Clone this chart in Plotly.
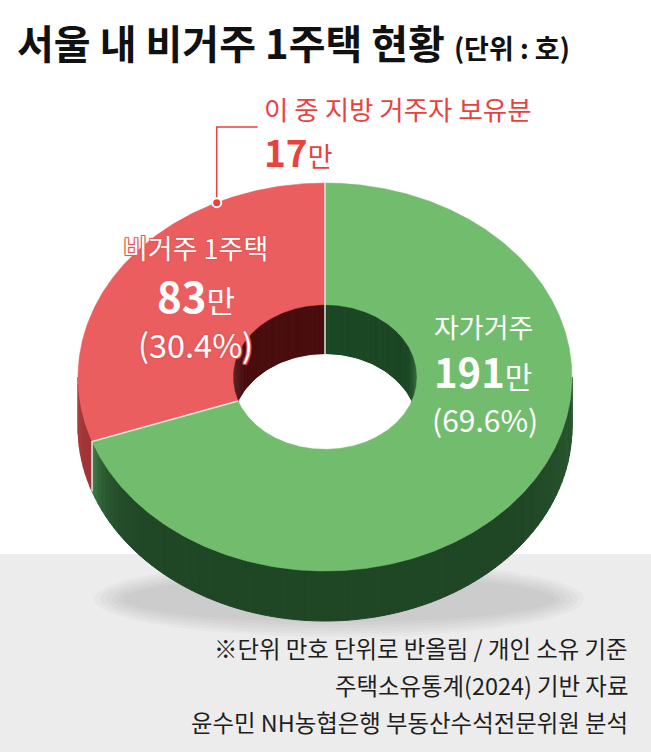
import numpy as np
import plotly.graph_objects as go

# data (단위: 만 호)
categories = ["자가거주", "비거주 1주택"]
values = [191, 83]
shares = [69.6, 30.4]
sub_label = "이 중 지방 거주자 보유분"
sub_value = 17
notes = [
    "※단위 만호 단위로 반올림 / 개인 소유 기준",
    "주택소유통계(2024) 기반 자료",
    "윤수민 NH농협은행 부동산수석전문위원 분석",
]

# donut geometry in pixel space
CX, CY = 325, 377
RX, RY = 247, 194
HOLE = 0.373
DEPTH = 50
RXI, RYI = RX * HOLE, RY * HOLE

RED = "#EB5E5F"
GREEN = "#72BD6D"
RED_TXT = "#E8423F"
KR = "Noto Sans CJK KR"


def ell(theta, rx, ry, dy=0.0):
    t = np.radians(theta)
    return CX + rx * np.cos(t), CY - ry * np.sin(t) + dy


def mix(c1, c2, w):
    w = min(max(w, 0.0), 1.0)
    a = [int(c1[i:i + 2], 16) for i in (1, 3, 5)]
    b = [int(c2[i:i + 2], 16) for i in (1, 3, 5)]
    return "#" + "".join(f"{round(x + (y - x) * w):02x}" for x, y in zip(a, b))


def overlap(a0, a1, lo, hi):
    out = []
    for s in (-360, 0, 360):
        x0, x1 = max(a0 + s, lo), min(a1 + s, hi)
        if x1 > x0:
            out.append((x0, x1))
    return out


fig = go.Figure()


def poly(xs, ys, color, width=1):
    fig.add_trace(go.Scatter(
        x=list(xs) + [xs[0]], y=list(ys) + [ys[0]],
        mode="lines", fill="toself", fillcolor=color,
        line=dict(color=color, width=width),
        hoverinfo="skip", showlegend=False,
    ))


# slice angles from the shares, red slice starts at 12 o'clock going counter-clockwise
start = 90.0
red_span = shares[1] * 3.6
slices = [
    # (a0, a1, top, side, side_light, inner, inner_light)
    (start, start + red_span, RED, "#9C3335", "#C24B4D", "#4A0D0E", "#6E3A3A"),
    (start + red_span, start + 360, GREEN, "#1F4625", "#4A8F50", "#1C4724", "#4E8C54"),
]

# soft shadow on the floor
ring = np.linspace(0, 360, 121)
for i in range(6):
    sx, sy = ell(ring, 245 - i * 6, 38 - i * 3)
    fig.add_trace(go.Scatter(
        x=sx + 14, y=sy + RY + DEPTH - 22,
        mode="lines", fill="toself", fillcolor="rgba(70,70,70,0.032)",
        line=dict(width=0), hoverinfo="skip", showlegend=False,
    ))

# outer side wall (front half)
step = 2.0
for a0, a1, top, side, side_l, inner, inner_l in slices:
    for lo, hi in overlap(a0, a1, 180, 360):
        for t in np.arange(lo, hi, step):
            t2 = min(t + step, hi)
            w = 0.75 * np.exp(-(t - lo) / 7.0) + 0.25 * max(0.0, (t - 320) / 40)
            c = mix(side, side_l, w)
            x1, y1 = ell(np.array([t, t2]), RX, RY)
            x2, y2 = ell(np.array([t2, t]), RX, RY, DEPTH)
            poly(np.r_[x1, x2], np.r_[y1, y2], c)

# inner wall (back half of the hole)
for a0, a1, top, side, side_l, inner, inner_l in slices:
    for lo, hi in overlap(a0, a1, 0, 180):
        for t in np.arange(lo, hi, step):
            t2 = min(t + step, hi)
            w = 0.8 * max(0.0, (t - 150) / 30) + 0.9 * max(0.0, (25 - t) / 25)
            c = mix(inner, inner_l, w)
            x1, y1 = ell(np.array([t, t2]), RXI, RYI)
            x2, y2 = ell(np.array([t2, t]), RXI, RYI, DEPTH)
            poly(np.r_[x1, x2], np.r_[y1, y2], c)

# see-through part of the hole
hx, hy = ell(np.linspace(0, 360, 181), RXI, RYI, DEPTH)
poly(hx, hy, "#FFFFFF")

# top face
for a0, a1, top, *_ in slices:
    th = np.linspace(a0, a1, int((a1 - a0) * 2) + 2)
    ox, oy = ell(th, RX, RY)
    ix, iy = ell(th[::-1], RXI, RYI)
    poly(np.r_[ox, ix], np.r_[oy, iy], top, width=0.5)

# slice borders
for a in (start, start + red_span):
    bx, by = ell(np.array([a, a]), np.array([RX, RXI]), np.array([RY, RYI]))
    if a == start:
        bx = np.r_[bx, bx[-1]]
        by = np.r_[by, by[-1] + DEPTH]
    else:
        ex, ey = ell(a, RX, RY)
        bx = np.r_[bx[::-1], ex]
        by = np.r_[by[::-1], ey + DEPTH]
    fig.add_trace(go.Scatter(x=bx, y=by, mode="lines",
                             line=dict(color="#E4E4E4", width=1.5),
                             hoverinfo="skip", showlegend=False))

# leader for the sub-share
dx, dy = ell(116.0, RX, RY)
fig.add_trace(go.Scatter(x=[dx, dx, dx + 41], y=[dy, 127, 127], mode="lines",
                         line=dict(color=RED_TXT, width=1.5),
                         hoverinfo="skip", showlegend=False))
fig.add_trace(go.Scatter(x=[dx], y=[dy], mode="markers",
                         marker=dict(size=9, color=RED_TXT, line=dict(color="white", width=2)),
                         hoverinfo="skip", showlegend=False))


def note(x, y, text, size, color, xanchor="left", weight=400, shadow="none"):
    fig.add_annotation(x=x, y=y, xref="x", yref="y", text=text, showarrow=False,
                       xanchor=xanchor, yanchor="middle",
                       font=dict(family=KR, size=size, color=color, weight=weight, shadow=shadow))


glow = ("1px 1px 0 #E45858, -1px -1px 0 #E45858, 1px -1px 0 #E45858, -1px 1px 0 #E45858, "
        "0 0 3px #E45858")

note(15, 42, "<b>서울 내 비거주 1주택 현황</b> <span style='font-size:27px'><b>(단위 : 호)</b></span>",
     40, "#111111")
note(262, 108, sub_label, 26.5, RED_TXT)
note(262, 151, f"<b>{sub_value}</b><span style='font-size:27px'>만</span>", 37, RED_TXT)

note(195, 247, categories[1], 27, "white", "center", shadow=glow)
note(196, 294, f"<b>{values[1]}</b><span style='font-size:31px'>만</span>", 42, "white", "center")
note(195, 343, f"({shares[1]}%)", 32.5, "white", "center", shadow=glow)

note(483, 326, categories[0], 27, "white", "center")
note(483, 371, f"<b>{values[0]}</b><span style='font-size:30px'>만</span>", 40, "white", "center")
note(485, 419, f"({shares[0]}%)", 30, "white", "center")

for i, t in enumerate(notes):
    note(630, 648 + i * 37, t, 23.4, "#1E1E1E", "right")

fig.update_layout(
    width=651, height=752,
    margin=dict(l=0, r=0, t=0, b=0),
    paper_bgcolor="white", plot_bgcolor="white",
    xaxis=dict(range=[0, 651], visible=False, fixedrange=True),
    yaxis=dict(range=[752, 0], visible=False, fixedrange=True),
    shapes=[dict(type="rect", xref="x", yref="y", x0=0, x1=651, y0=554, y1=752,
                 fillcolor="#ECECEC", line_width=0, layer="below")],
)

fig.write_html("out.html", config={"displayModeBar": False},
               post_script="document.body.style.margin='0';document.body.style.overflow='hidden';")
